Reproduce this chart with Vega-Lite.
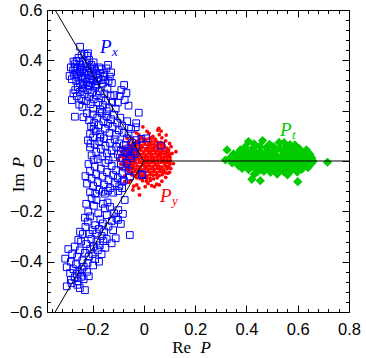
{
"$schema":"https://vega.github.io/schema/vega-lite/v6.json",
"autosize":"none",
"width":302,"height":302,
"padding":{"left":47,"top":10,"right":17,"bottom":46},
"background":"white",
"config":{"view":{"stroke":"black","strokeWidth":1},"axis":{"grid":false,"domain":false,"tickColor":"black","tickWidth":1,"labelColor":"black","titleColor":"black"}},
"datasets":{
"px":[
{"x":-0.249,"y":0.454},{"x":-0.262,"y":0.398},{"x":-0.255,"y":0.41},{"x":-0.243,"y":0.42},{"x":-0.232,"y":0.425},{"x":-0.222,"y":0.418},{"x":-0.214,"y":0.402},{"x":-0.238,"y":0.395},{"x":-0.226,"y":0.388},{"x":-0.205,"y":0.382},{"x":-0.27,"y":0.385},{"x":-0.248,"y":0.382},{"x":-0.218,"y":0.428},{"x":-0.196,"y":0.392},{"x":-0.275,"y":0.395},
{"x":-0.285,"y":0.372},{"x":-0.276,"y":0.36},{"x":-0.268,"y":0.375},{"x":-0.26,"y":0.366},{"x":-0.252,"y":0.352},{"x":-0.246,"y":0.371},{"x":-0.24,"y":0.362},{"x":-0.233,"y":0.348},{"x":-0.228,"y":0.376},{"x":-0.222,"y":0.357},{"x":-0.216,"y":0.343},{"x":-0.21,"y":0.368},{"x":-0.204,"y":0.351},{"x":-0.198,"y":0.338},{"x":-0.192,"y":0.36},{"x":-0.186,"y":0.344},{"x":-0.178,"y":0.33},{"x":-0.172,"y":0.35},{"x":-0.168,"y":0.322},{"x":-0.29,"y":0.338},{"x":-0.281,"y":0.325},{"x":-0.272,"y":0.342},{"x":-0.264,"y":0.318},{"x":-0.256,"y":0.332},{"x":-0.249,"y":0.31},{"x":-0.243,"y":0.326},{"x":-0.237,"y":0.305},{"x":-0.231,"y":0.33},{"x":-0.224,"y":0.314},{"x":-0.218,"y":0.302},{"x":-0.212,"y":0.325},{"x":-0.205,"y":0.31},{"x":-0.199,"y":0.32},{"x":-0.19,"y":0.305},{"x":-0.183,"y":0.316},{"x":-0.16,"y":0.308},{"x":-0.155,"y":0.335},{"x":-0.195,"y":0.372},{"x":-0.262,"y":0.345},{"x":-0.24,"y":0.338},{"x":-0.146,"y":0.368},{"x":-0.14,"y":0.382},{"x":-0.133,"y":0.335},{"x":-0.128,"y":0.352},{"x":-0.15,"y":0.322},{"x":-0.165,"y":0.365},{"x":-0.158,"y":0.35},{"x":-0.138,"y":0.318},{"x":-0.125,"y":0.31},{"x":-0.175,"y":0.372},
{"x":-0.275,"y":0.269},{"x":-0.281,"y":0.242},{"x":-0.268,"y":0.282},{"x":-0.258,"y":0.294},{"x":-0.262,"y":0.258},{"x":-0.25,"y":0.275},{"x":-0.244,"y":0.246},{"x":-0.238,"y":0.288},{"x":-0.232,"y":0.265},{"x":-0.226,"y":0.238},{"x":-0.22,"y":0.282},{"x":-0.214,"y":0.256},{"x":-0.208,"y":0.226},{"x":-0.202,"y":0.272},{"x":-0.196,"y":0.245},{"x":-0.19,"y":0.292},{"x":-0.184,"y":0.262},{"x":-0.178,"y":0.232},{"x":-0.172,"y":0.278},{"x":-0.166,"y":0.25},{"x":-0.16,"y":0.222},{"x":-0.154,"y":0.268},{"x":-0.148,"y":0.24},{"x":-0.142,"y":0.288},{"x":-0.136,"y":0.212},{"x":-0.13,"y":0.258},{"x":-0.124,"y":0.232},{"x":-0.116,"y":0.262},{"x":-0.11,"y":0.208},{"x":-0.088,"y":0.282},{"x":-0.077,"y":0.302},{"x":-0.075,"y":0.242},{"x":-0.24,"y":0.215},{"x":-0.252,"y":0.224},{"x":-0.198,"y":0.208},{"x":-0.17,"y":0.205},{"x":-0.145,"y":0.198},{"x":-0.216,"y":0.298},{"x":-0.186,"y":0.3},{"x":-0.102,"y":0.232},{"x":-0.06,"y":0.22},{"x":-0.095,"y":0.258},{"x":-0.068,"y":0.27},
{"x":-0.269,"y":0.176},{"x":-0.236,"y":0.174},{"x":-0.222,"y":0.19},{"x":-0.214,"y":0.162},{"x":-0.206,"y":0.138},{"x":-0.2,"y":0.185},{"x":-0.194,"y":0.152},{"x":-0.188,"y":0.118},{"x":-0.182,"y":0.172},{"x":-0.176,"y":0.142},{"x":-0.17,"y":0.106},{"x":-0.164,"y":0.19},{"x":-0.158,"y":0.158},{"x":-0.152,"y":0.128},{"x":-0.146,"y":0.178},{"x":-0.14,"y":0.148},{"x":-0.134,"y":0.112},{"x":-0.128,"y":0.166},{"x":-0.122,"y":0.136},{"x":-0.116,"y":0.184},{"x":-0.11,"y":0.104},{"x":-0.104,"y":0.152},{"x":-0.098,"y":0.122},{"x":-0.092,"y":0.172},{"x":-0.085,"y":0.14},{"x":-0.078,"y":0.112},{"x":-0.065,"y":0.158},{"x":-0.05,"y":0.128},{"x":-0.032,"y":0.134},{"x":-0.03,"y":0.15},{"x":-0.02,"y":0.192},{"x":-0.21,"y":0.108},{"x":-0.196,"y":0.128},{"x":-0.172,"y":0.196},{"x":-0.06,"y":0.108},
{"x":-0.218,"y":0.082},{"x":-0.21,"y":0.054},{"x":-0.204,"y":0.022},{"x":-0.198,"y":0.094},{"x":-0.192,"y":0.066},{"x":-0.186,"y":0.036},{"x":-0.18,"y":0.008},{"x":-0.174,"y":0.078},{"x":-0.168,"y":0.048},{"x":-0.162,"y":0.018},{"x":-0.156,"y":0.09},{"x":-0.15,"y":0.06},{"x":-0.144,"y":0.03},{"x":-0.138,"y":0.004},{"x":-0.132,"y":0.072},{"x":-0.126,"y":0.042},{"x":-0.12,"y":0.014},{"x":-0.114,"y":0.086},{"x":-0.108,"y":0.056},{"x":-0.102,"y":0.026},{"x":-0.096,"y":0.07},{"x":-0.09,"y":0.04},{"x":-0.084,"y":0.01},{"x":-0.078,"y":0.062},{"x":-0.072,"y":0.032},{"x":-0.066,"y":0.09},{"x":-0.06,"y":0.05},{"x":-0.054,"y":0.02},{"x":-0.046,"y":0.072},{"x":-0.04,"y":0.036},{"x":-0.196,"y":0.004},{"x":-0.208,"y":0.07},{"x":-0.17,"y":0.096},{"x":-0.03,"y":0.058},{"x":-0.01,"y":0.088},{"x":0.009,"y":0.09},{"x":0.067,"y":0.061},{"x":-0.006,"y":-0.056},{"x":-0.049,"y":0.011},{"x":-0.068,"y":0.04},{"x":-0.03,"y":0.083},{"x":-0.084,"y":-0.082},{"x":-0.055,"y":-0.062},{"x":-0.036,"y":0.027},
{"x":-0.216,"y":-0.012},{"x":-0.21,"y":-0.04},{"x":-0.204,"y":-0.07},{"x":-0.198,"y":-0.1},{"x":-0.192,"y":-0.022},{"x":-0.186,"y":-0.052},{"x":-0.18,"y":-0.084},{"x":-0.174,"y":-0.114},{"x":-0.168,"y":-0.03},{"x":-0.162,"y":-0.062},{"x":-0.156,"y":-0.094},{"x":-0.15,"y":-0.008},{"x":-0.144,"y":-0.044},{"x":-0.138,"y":-0.076},{"x":-0.132,"y":-0.108},{"x":-0.126,"y":-0.02},{"x":-0.12,"y":-0.056},{"x":-0.114,"y":-0.088},{"x":-0.108,"y":-0.036},{"x":-0.102,"y":-0.068},{"x":-0.096,"y":-0.1},{"x":-0.09,"y":-0.014},{"x":-0.084,"y":-0.048},{"x":-0.078,"y":-0.078},{"x":-0.072,"y":-0.026},{"x":-0.068,"y":-0.007},{"x":-0.06,"y":-0.04},{"x":-0.008,"y":-0.052},{"x":-0.21,"y":-0.124},{"x":-0.19,"y":-0.13},{"x":-0.16,"y":-0.122},{"x":-0.14,"y":-0.118},{"x":-0.12,"y":-0.126},{"x":-0.1,"y":-0.12},{"x":-0.222,"y":-0.09},{"x":-0.228,"y":-0.06},{"x":-0.152,"y":-0.13},{"x":-0.085,"y":-0.108},
{"x":-0.204,"y":-0.148},{"x":-0.185,"y":-0.155},{"x":-0.152,"y":-0.188},{"x":-0.116,"y":-0.208},{"x":-0.101,"y":-0.234},{"x":-0.075,"y":-0.155},{"x":-0.217,"y":-0.201},{"x":-0.219,"y":-0.241},{"x":-0.178,"y":-0.208},{"x":-0.249,"y":-0.281},{"x":-0.055,"y":-0.294},{"x":-0.11,"y":-0.307},{"x":-0.1,"y":-0.195},{"x":-0.107,"y":-0.228},{"x":-0.16,"y":-0.17},{"x":-0.17,"y":-0.232},{"x":-0.195,"y":-0.178},{"x":-0.21,"y":-0.22},{"x":-0.19,"y":-0.255},{"x":-0.175,"y":-0.27},{"x":-0.16,"y":-0.248},{"x":-0.145,"y":-0.215},{"x":-0.132,"y":-0.182},{"x":-0.138,"y":-0.26},{"x":-0.125,"y":-0.238},{"x":-0.2,"y":-0.275},{"x":-0.228,"y":-0.262},{"x":-0.238,"y":-0.29},{"x":-0.215,"y":-0.29},{"x":-0.185,"y":-0.288},{"x":-0.155,"y":-0.28},{"x":-0.12,"y":-0.275},{"x":-0.09,"y":-0.25},{"x":-0.082,"y":-0.21},{"x":-0.142,"y":-0.165},{"x":-0.225,"y":-0.17},{"x":-0.23,"y":-0.225},{"x":-0.165,"y":-0.298},
{"x":-0.307,"y":-0.388},{"x":-0.301,"y":-0.422},{"x":-0.256,"y":-0.314},{"x":-0.126,"y":-0.327},{"x":-0.295,"y":-0.35},{"x":-0.285,"y":-0.4},{"x":-0.28,"y":-0.37},{"x":-0.275,"y":-0.43},{"x":-0.27,"y":-0.34},{"x":-0.265,"y":-0.41},{"x":-0.26,"y":-0.38},{"x":-0.255,"y":-0.44},{"x":-0.25,"y":-0.355},{"x":-0.245,"y":-0.32},{"x":-0.24,"y":-0.395},{"x":-0.235,"y":-0.42},{"x":-0.23,"y":-0.365},{"x":-0.225,"y":-0.33},{"x":-0.22,"y":-0.405},{"x":-0.215,"y":-0.38},{"x":-0.21,"y":-0.35},{"x":-0.205,"y":-0.31},{"x":-0.2,"y":-0.37},{"x":-0.195,"y":-0.34},{"x":-0.19,"y":-0.39},{"x":-0.185,"y":-0.32},{"x":-0.18,"y":-0.355},{"x":-0.172,"y":-0.335},{"x":-0.165,"y":-0.37},{"x":-0.158,"y":-0.318},{"x":-0.15,"y":-0.345},{"x":-0.145,"y":-0.31},{"x":-0.288,"y":-0.445},{"x":-0.262,"y":-0.448},{"x":-0.242,"y":-0.43},{"x":-0.222,"y":-0.44},{"x":-0.198,"y":-0.415},{"x":-0.175,"y":-0.4},
{"x":-0.301,"y":-0.498},{"x":-0.285,"y":-0.473},{"x":-0.23,"y":-0.513},{"x":-0.27,"y":-0.462},{"x":-0.255,"y":-0.478},{"x":-0.26,"y":-0.492},{"x":-0.245,"y":-0.46},{"x":-0.282,"y":-0.485},{"x":-0.235,"y":-0.47},{"x":-0.215,"y":-0.458},{"x":-0.25,"y":-0.505}
],
"py":[
{"x":-0.017,"y":0.087},{"x":-0.004,"y":0.09},{"x":0.008,"y":0.086},{"x":0.02,"y":0.089},{"x":0.03,"y":0.091},{"x":0.043,"y":0.087},
{"x":-0.041,"y":0.075},{"x":-0.028,"y":0.078},{"x":-0.018,"y":0.074},{"x":-0.004,"y":0.077},{"x":0.006,"y":0.079},{"x":0.02,"y":0.073},{"x":0.03,"y":0.076},{"x":0.044,"y":0.078},{"x":0.054,"y":0.075},{"x":0.066,"y":0.074},
{"x":-0.056,"y":0.063},{"x":-0.044,"y":0.066},{"x":-0.032,"y":0.062},{"x":-0.02,"y":0.065},{"x":-0.009,"y":0.061},{"x":0.004,"y":0.067},{"x":0.016,"y":0.063},{"x":0.028,"y":0.064},{"x":0.04,"y":0.066},{"x":0.053,"y":0.062},{"x":0.065,"y":0.065},{"x":0.079,"y":0.063},
{"x":-0.066,"y":0.051},{"x":-0.054,"y":0.054},{"x":-0.042,"y":0.05},{"x":-0.03,"y":0.053},{"x":-0.017,"y":0.052},{"x":-0.006,"y":0.055},{"x":0.007,"y":0.049},{"x":0.018,"y":0.053},{"x":0.031,"y":0.051},{"x":0.042,"y":0.054},{"x":0.055,"y":0.05},{"x":0.066,"y":0.052},{"x":0.078,"y":0.055},{"x":0.09,"y":0.051},
{"x":-0.072,"y":0.041},{"x":-0.061,"y":0.038},{"x":-0.048,"y":0.042},{"x":-0.036,"y":0.039},{"x":-0.024,"y":0.04},{"x":-0.012,"y":0.043},{"x":0.0,"y":0.038},{"x":0.013,"y":0.041},{"x":0.025,"y":0.039},{"x":0.037,"y":0.042},{"x":0.049,"y":0.04},{"x":0.061,"y":0.037},{"x":0.073,"y":0.041},{"x":0.085,"y":0.039},{"x":0.096,"y":0.042},
{"x":-0.076,"y":0.027},{"x":-0.064,"y":0.03},{"x":-0.053,"y":0.026},{"x":-0.04,"y":0.029},{"x":-0.029,"y":0.031},{"x":-0.016,"y":0.027},{"x":-0.004,"y":0.028},{"x":0.008,"y":0.025},{"x":0.02,"y":0.03},{"x":0.032,"y":0.027},{"x":0.045,"y":0.029},{"x":0.057,"y":0.026},{"x":0.068,"y":0.03},{"x":0.081,"y":0.028},{"x":0.092,"y":0.031},{"x":0.101,"y":0.027},
{"x":-0.079,"y":0.015},{"x":-0.067,"y":0.018},{"x":-0.056,"y":0.014},{"x":-0.043,"y":0.017},{"x":-0.031,"y":0.016},{"x":-0.02,"y":0.019},{"x":-0.008,"y":0.013},{"x":0.004,"y":0.017},{"x":0.016,"y":0.015},{"x":0.028,"y":0.018},{"x":0.04,"y":0.014},{"x":0.052,"y":0.016},{"x":0.065,"y":0.019},{"x":0.077,"y":0.015},{"x":0.089,"y":0.017},{"x":0.102,"y":0.014},
{"x":-0.08,"y":0.005},{"x":-0.068,"y":0.002},{"x":-0.055,"y":0.006},{"x":-0.044,"y":0.003},{"x":-0.032,"y":0.004},{"x":-0.019,"y":0.007},{"x":-0.007,"y":0.001},{"x":0.005,"y":0.005},{"x":0.017,"y":0.003},{"x":0.029,"y":0.006},{"x":0.041,"y":0.002},{"x":0.054,"y":0.004},{"x":0.066,"y":0.007},{"x":0.078,"y":0.003},{"x":0.09,"y":0.005},{"x":0.103,"y":0.002},
{"x":-0.077,"y":-0.007},{"x":-0.066,"y":-0.01},{"x":-0.053,"y":-0.006},{"x":-0.041,"y":-0.009},{"x":-0.03,"y":-0.008},{"x":-0.017,"y":-0.005},{"x":-0.005,"y":-0.011},{"x":0.007,"y":-0.007},{"x":0.019,"y":-0.009},{"x":0.031,"y":-0.006},{"x":0.043,"y":-0.01},{"x":0.055,"y":-0.008},{"x":0.068,"y":-0.005},{"x":0.08,"y":-0.009},{"x":0.091,"y":-0.006},{"x":0.1,"y":-0.007},
{"x":-0.074,"y":-0.019},{"x":-0.062,"y":-0.022},{"x":-0.05,"y":-0.018},{"x":-0.039,"y":-0.021},{"x":-0.026,"y":-0.02},{"x":-0.014,"y":-0.023},{"x":-0.002,"y":-0.017},{"x":0.01,"y":-0.021},{"x":0.022,"y":-0.019},{"x":0.035,"y":-0.022},{"x":0.047,"y":-0.018},{"x":0.059,"y":-0.02},{"x":0.071,"y":-0.023},{"x":0.084,"y":-0.019},{"x":0.097,"y":-0.021},
{"x":-0.068,"y":-0.031},{"x":-0.056,"y":-0.034},{"x":-0.044,"y":-0.03},{"x":-0.032,"y":-0.033},{"x":-0.02,"y":-0.032},{"x":-0.008,"y":-0.035},{"x":0.004,"y":-0.029},{"x":0.017,"y":-0.033},{"x":0.029,"y":-0.031},{"x":0.041,"y":-0.034},{"x":0.053,"y":-0.03},{"x":0.065,"y":-0.032},{"x":0.078,"y":-0.035},{"x":0.091,"y":-0.031},
{"x":-0.06,"y":-0.043},{"x":-0.048,"y":-0.046},{"x":-0.036,"y":-0.042},{"x":-0.023,"y":-0.045},{"x":-0.011,"y":-0.044},{"x":0.001,"y":-0.047},{"x":0.013,"y":-0.041},{"x":0.025,"y":-0.045},{"x":0.037,"y":-0.043},{"x":0.05,"y":-0.046},{"x":0.062,"y":-0.042},{"x":0.073,"y":-0.044},{"x":0.084,"y":-0.046},
{"x":-0.048,"y":-0.055},{"x":-0.036,"y":-0.058},{"x":-0.024,"y":-0.054},{"x":-0.012,"y":-0.057},{"x":0.0,"y":-0.056},{"x":0.012,"y":-0.059},{"x":0.024,"y":-0.053},{"x":0.036,"y":-0.057},{"x":0.048,"y":-0.055},{"x":0.06,"y":-0.058},{"x":0.072,"y":-0.054},
{"x":-0.028,"y":-0.067},{"x":-0.015,"y":-0.07},{"x":-0.002,"y":-0.066},{"x":0.011,"y":-0.069},{"x":0.024,"y":-0.068},{"x":0.038,"y":-0.071},{"x":0.052,"y":-0.067},
{"x":-0.005,"y":-0.078},{"x":0.01,"y":-0.08},{"x":0.025,"y":-0.077},
{"x":0.054,"y":0.123},{"x":-0.004,"y":0.136},{"x":0.1,"y":0.07},{"x":0.106,"y":0.057},{"x":0.093,"y":-0.049},{"x":-0.017,"y":-0.135},{"x":-0.094,"y":0.02},{"x":0.125,"y":0.037},{"x":0.02,"y":0.11},{"x":0.035,"y":0.098},{"x":0.07,"y":0.092},{"x":0.085,"y":0.08},{"x":-0.02,"y":0.105},{"x":-0.045,"y":0.09},{"x":-0.06,"y":0.075},{"x":-0.08,"y":0.055},{"x":-0.09,"y":-0.03},{"x":-0.075,"y":-0.06},{"x":-0.06,"y":-0.085},{"x":-0.04,"y":-0.1},{"x":-0.02,"y":-0.108},{"x":0.005,"y":-0.102},{"x":0.03,"y":-0.098},{"x":0.05,"y":-0.092},{"x":0.07,"y":-0.08},{"x":0.085,"y":-0.065},{"x":0.105,"y":-0.03},{"x":0.11,"y":0.03},{"x":0.115,"y":-0.01},{"x":0.095,"y":0.045},{"x":0.06,"y":0.105},{"x":0.012,"y":0.118},{"x":-0.03,"y":0.112},{"x":0.041,"y":-0.102},{"x":0.016,"y":-0.089},{"x":-0.043,"y":-0.115},{"x":-0.075,"y":-0.082},{"x":0.067,"y":0.119},{"x":0.058,"y":0.13},{"x":0.087,"y":0.103},{"x":0.087,"y":-0.023},{"x":0.1,"y":-0.045},{"x":-0.1,"y":0.005},{"x":0.045,"y":0.085},{"x":-0.065,"y":0.09},{"x":0.075,"y":0.07},{"x":-0.052,"y":-0.078},{"x":0.098,"y":0.018},{"x":0.102,"y":-0.012},{"x":-0.088,"y":0.038},{"x":-0.09,"y":-0.012},{"x":0.025,"y":0.092},{"x":-0.012,"y":0.095},{"x":0.06,"y":-0.095},{"x":-0.028,"y":-0.095}
],
"pt":[
{"x":0.395,"y":0.056},{"x":0.425,"y":0.052},{"x":0.452,"y":0.058},{"x":0.478,"y":0.054},{"x":0.505,"y":0.057},{"x":0.53,"y":0.051},{"x":0.556,"y":0.055},{"x":0.582,"y":0.052},{"x":0.605,"y":0.05},
{"x":0.408,"y":0.077},{"x":0.463,"y":0.081},{"x":0.527,"y":0.074},{"x":0.547,"y":0.073},{"x":0.589,"y":0.064},{"x":0.634,"y":0.044},{"x":0.43,"y":0.068},{"x":0.49,"y":0.066},{"x":0.57,"y":0.065},
{"x":0.376,"y":0.044},{"x":0.4,"y":0.04},{"x":0.428,"y":0.043},{"x":0.455,"y":0.038},{"x":0.482,"y":0.042},{"x":0.508,"y":0.039},{"x":0.535,"y":0.044},{"x":0.56,"y":0.037},{"x":0.586,"y":0.041},{"x":0.612,"y":0.038},{"x":0.638,"y":0.035},
{"x":0.362,"y":0.024},{"x":0.388,"y":0.027},{"x":0.414,"y":0.022},{"x":0.44,"y":0.026},{"x":0.466,"y":0.023},{"x":0.492,"y":0.028},{"x":0.518,"y":0.021},{"x":0.544,"y":0.025},{"x":0.57,"y":0.022},{"x":0.596,"y":0.027},{"x":0.622,"y":0.023},{"x":0.648,"y":0.026},
{"x":0.368,"y":0.011},{"x":0.394,"y":0.008},{"x":0.42,"y":0.012},{"x":0.446,"y":0.009},{"x":0.472,"y":0.013},{"x":0.498,"y":0.007},{"x":0.524,"y":0.011},{"x":0.55,"y":0.008},{"x":0.576,"y":0.012},{"x":0.602,"y":0.009},{"x":0.628,"y":0.01},{"x":0.655,"y":0.012},
{"x":0.356,"y":-0.004},{"x":0.382,"y":-0.007},{"x":0.408,"y":-0.003},{"x":0.434,"y":-0.006},{"x":0.46,"y":-0.002},{"x":0.486,"y":-0.005},{"x":0.512,"y":-0.008},{"x":0.538,"y":-0.003},{"x":0.564,"y":-0.006},{"x":0.59,"y":-0.002},{"x":0.616,"y":-0.007},{"x":0.642,"y":-0.004},{"x":0.66,"y":-0.001},
{"x":0.37,"y":-0.019},{"x":0.396,"y":-0.022},{"x":0.422,"y":-0.018},{"x":0.448,"y":-0.021},{"x":0.474,"y":-0.017},{"x":0.5,"y":-0.023},{"x":0.526,"y":-0.019},{"x":0.552,"y":-0.022},{"x":0.578,"y":-0.018},{"x":0.604,"y":-0.021},{"x":0.63,"y":-0.017},{"x":0.654,"y":-0.009},
{"x":0.383,"y":-0.029},{"x":0.408,"y":-0.034},{"x":0.434,"y":-0.031},{"x":0.46,"y":-0.035},{"x":0.486,"y":-0.03},{"x":0.512,"y":-0.034},{"x":0.538,"y":-0.032},{"x":0.564,"y":-0.036},{"x":0.59,"y":-0.031},{"x":0.616,"y":-0.033},{"x":0.64,"y":-0.026},
{"x":0.442,"y":-0.044},{"x":0.468,"y":-0.041},{"x":0.494,"y":-0.045},{"x":0.52,"y":-0.04},{"x":0.546,"y":-0.043},{"x":0.572,"y":-0.041},{"x":0.598,"y":-0.044},{"x":0.43,"y":-0.053},{"x":0.52,"y":-0.052},{"x":0.56,"y":-0.055},
{"x":0.421,"y":-0.073},{"x":0.454,"y":-0.078},{"x":0.6,"y":-0.082},
{"x":0.324,"y":0.044},{"x":0.35,"y":0.028},{"x":0.318,"y":0.004},{"x":0.336,"y":0.012},{"x":0.344,"y":-0.008},
{"x":0.716,"y":-0.005}
],
"lines":[
{"x":0,"y":0,"x2":0.8,"y2":0},{"x":0,"y":0,"x2":-0.3464,"y2":0.6},{"x":0,"y":0,"x2":-0.3464,"y2":-0.6}
],
"labels":[
{"n":"x","x":-0.171,"y":0.428},{"n":"y","x":0.063,"y":-0.164},{"n":"t","x":0.531,"y":0.099}
]
},
"resolve":{"axis":{"x":"independent","y":"independent"}},
"layer":[
{"data":{"name":"py"},"mark":{"type":"circle","color":"#ff0000","size":14,"opacity":1},
"encoding":{
"x":{"field":"x","type":"quantitative","scale":{"domain":[-0.378,0.8],"nice":false,"zero":false},
"axis":{"orient":"bottom","values":[-0.2,0,0.2,0.4,0.6,0.8],"format":"~g","ticks":false,"labelPadding":9,"labelFont":"Liberation Sans","labelFontSize":16.5,"labelFlush":false,"labelOverlap":false,
"title":"Re","titleFont":"Liberation Serif","titleFontSize":17,"titleFontWeight":"normal","titleX":124.7,"titleY":40,"titleAlign":"left","titleBaseline":"alphabetic","titleAngle":0}},
"y":{"field":"y","type":"quantitative","scale":{"domain":[-0.6,0.6],"nice":false,"zero":false},
"axis":{"orient":"left","values":[-0.6,-0.4,-0.2,0,0.2,0.4,0.6],"format":"~g","ticks":false,"labelPadding":5,"labelFont":"Liberation Sans","labelFontSize":16.5,"labelFlush":false,"labelOverlap":false,
"title":"Im","titleFont":"Liberation Serif","titleFontSize":17,"titleFontWeight":"normal","titleX":-24,"titleY":181.7,"titleAlign":"left","titleBaseline":"alphabetic","titleAngle":270}}}},
{"data":{"name":"px"},"mark":{"type":"point","shape":"square","filled":false,"stroke":"#0000ff","strokeWidth":1,"size":45,"opacity":1},
"encoding":{
"x":{"field":"x","type":"quantitative","scale":{"domain":[-0.378,0.8],"nice":false,"zero":false},
"axis":{"orient":"bottom","values":[-0.2,0,0.2,0.4,0.6,0.8],"labels":false,"tickSize":-7,
"title":"P","titleFont":"Liberation Serif","titleFontStyle":"italic","titleFontSize":17,"titleFontWeight":"normal","titleX":153,"titleY":40,"titleAlign":"left","titleBaseline":"alphabetic","titleAngle":0}},
"y":{"field":"y","type":"quantitative","scale":{"domain":[-0.6,0.6],"nice":false,"zero":false},
"axis":{"orient":"left","values":[-0.6,-0.4,-0.2,0,0.2,0.4,0.6],"labels":false,"tickSize":-7,
"title":"P","titleFont":"Liberation Serif","titleFontStyle":"italic","titleFontSize":17,"titleFontWeight":"normal","titleX":-24,"titleY":157,"titleAlign":"left","titleBaseline":"alphabetic","titleAngle":270}}}},
{"data":{"name":"pt"},"mark":{"type":"point","shape":"diamond","filled":true,"color":"#00cc00","size":85,"opacity":1},
"encoding":{
"x":{"field":"x","type":"quantitative","scale":{"domain":[-0.378,0.8],"nice":false,"zero":false},
"axis":{"orient":"bottom","values":[-0.36,-0.32,-0.28,-0.24,-0.16,-0.12,-0.08,-0.04,0.04,0.08,0.12,0.16,0.24,0.28,0.32,0.36,0.44,0.48,0.52,0.56,0.64,0.68,0.72,0.76],"labels":false,"tickSize":-3.5,"title":null}},
"y":{"field":"y","type":"quantitative","scale":{"domain":[-0.6,0.6],"nice":false,"zero":false},
"axis":{"orient":"left","values":[-0.56,-0.52,-0.48,-0.44,-0.36,-0.32,-0.28,-0.24,-0.16,-0.12,-0.08,-0.04,0.04,0.08,0.12,0.16,0.24,0.28,0.32,0.36,0.44,0.48,0.52,0.56],"labels":false,"tickSize":-3.5,"title":null}}}},
{"data":{"name":"lines"},"mark":{"type":"rule","color":"black","strokeWidth":1},
"encoding":{
"x":{"field":"x","type":"quantitative","scale":{"domain":[-0.378,0.8],"nice":false,"zero":false},
"axis":{"orient":"top","values":[-0.2,0,0.2,0.4,0.6,0.8],"labels":false,"tickSize":-7,"title":null}},
"y":{"field":"y","type":"quantitative","scale":{"domain":[-0.6,0.6],"nice":false,"zero":false},
"axis":{"orient":"right","values":[-0.6,-0.4,-0.2,0,0.2,0.4,0.6],"labels":false,"tickSize":-7,"title":null}},
"x2":{"field":"x2"},"y2":{"field":"y2"}}},
{"data":{"name":"labels"},"mark":{"type":"text","text":"P","font":"Liberation Serif","fontStyle":"italic","fontSize":19,"align":"left","baseline":"alphabetic"},
"encoding":{
"x":{"field":"x","type":"quantitative","scale":{"domain":[-0.378,0.8],"nice":false,"zero":false},
"axis":{"orient":"top","values":[-0.36,-0.32,-0.28,-0.24,-0.16,-0.12,-0.08,-0.04,0.04,0.08,0.12,0.16,0.24,0.28,0.32,0.36,0.44,0.48,0.52,0.56,0.64,0.68,0.72,0.76],"labels":false,"tickSize":-3.5,"title":null}},
"y":{"field":"y","type":"quantitative","scale":{"domain":[-0.6,0.6],"nice":false,"zero":false},
"axis":{"orient":"right","values":[-0.56,-0.52,-0.48,-0.44,-0.36,-0.32,-0.28,-0.24,-0.16,-0.12,-0.08,-0.04,0.04,0.08,0.12,0.16,0.24,0.28,0.32,0.36,0.44,0.48,0.52,0.56],"labels":false,"tickSize":-3.5,"title":null}},
"color":{"field":"n","type":"nominal","scale":{"domain":["x","y","t"],"range":["#0000ff","#ff0000","#00cc00"]},"legend":null}}},
{"data":{"name":"labels"},"mark":{"type":"text","font":"Liberation Serif","fontStyle":"italic","fontSize":13,"align":"left","baseline":"alphabetic","dx":12,"dy":3},
"encoding":{
"x":{"field":"x","type":"quantitative","scale":{"domain":[-0.378,0.8],"nice":false,"zero":false},"axis":null},
"y":{"field":"y","type":"quantitative","scale":{"domain":[-0.6,0.6],"nice":false,"zero":false},"axis":null},
"text":{"field":"n"},
"color":{"field":"n","type":"nominal","scale":{"domain":["x","y","t"],"range":["#0000ff","#ff0000","#00cc00"]},"legend":null}}}
]
}
